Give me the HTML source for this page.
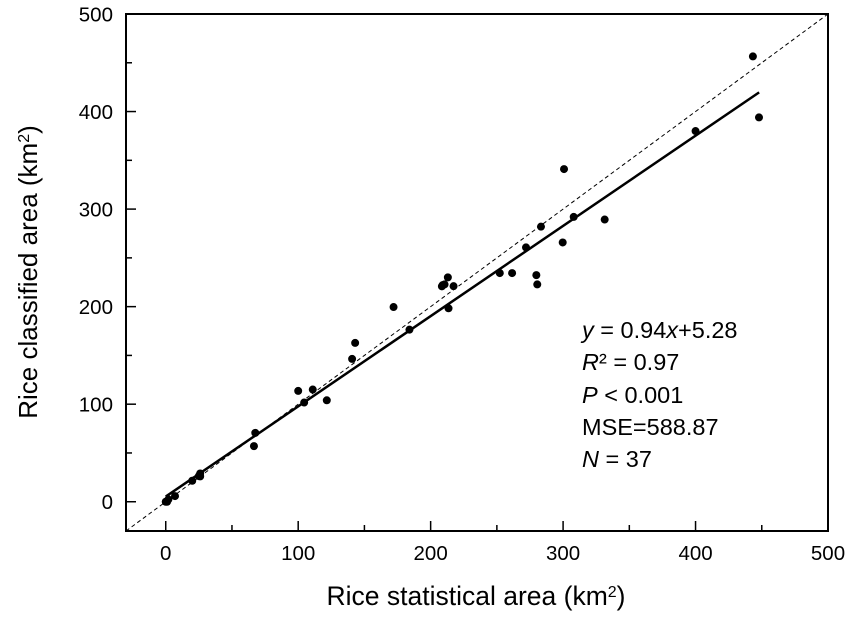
<!DOCTYPE html>
<html><head><meta charset="utf-8"><style>
body{margin:0;background:#fff;}
svg{display:block;font-family:"Liberation Sans",Arial,sans-serif;}
</style></head><body>
<svg id="chart" width="851" height="617" viewBox="0 0 851 617">
<g id="axes"></g>
<g id="lines"></g>
<g id="points"></g>
<g font-size="23.5" fill="#000">
<text x="582" y="338"><tspan font-style="italic">y</tspan> = 0.94<tspan font-style="italic">x</tspan>+5.28</text>
<text x="582" y="370"><tspan font-style="italic">R</tspan>² = 0.97</text>
<text x="582" y="403"><tspan font-style="italic">P</tspan> &lt; 0.001</text>
<text x="582" y="435">MSE=588.87</text>
<text x="582" y="467"><tspan font-style="italic">N</tspan> = 37</text>
</g>
<text x="476" y="605" text-anchor="middle" font-size="26.5">Rice statistical area (km<tspan baseline-shift="super" font-size="16">2</tspan>)</text>
<text transform="translate(37,272) rotate(-90)" text-anchor="middle" font-size="26">Rice classified area (km<tspan baseline-shift="super" font-size="16">2</tspan>)</text>
</svg>
<script>
const xs=[0,1,2,7,20,25,26,26,67.6,66.6,100,104.5,111,121.6,140.7,143,172,184,443.3,447.9,400,300.7,308,331.4,283.3,272,299.7,252.2,261.5,279.8,280.5,213,208.5,210.5,217.3,213.5,209];
const ys=[0,0,2.4,5.8,21.5,26.3,26,29,70.6,57,113.6,101.7,115,104,146.4,162.8,199.6,176.4,456.5,394,380,341,292,289.3,282,260.7,265.8,234.4,234.4,232.3,222.8,230,220.8,222.8,221,198.3,222];
const ticks=[0,100,200,300,400,500];
const minorTicks=[50,150,250,350,450];
const slope=0.925, intercept=5.28, fitMin=0, fitMax=448;
const NS="http://www.w3.org/2000/svg";
const L=126,R=828,T=14,B=531,vmin=-30,vmax=500;
const sx=v=>L+(v-vmin)/(vmax-vmin)*(R-L);
const sy=v=>B-(v-vmin)/(vmax-vmin)*(B-T);
function mk(tag,attrs,parent){const e=document.createElementNS(NS,tag);for(const k in attrs)e.setAttribute(k,attrs[k]);parent.appendChild(e);return e;}
const ax=document.getElementById('axes');
const fr=mk('rect',{x:L,y:T,width:R-L,height:B-T,fill:'none',stroke:'#000','stroke-width':2},ax);


ticks.concat(minorTicks).forEach((t,i)=>{
 const len=i<ticks.length?10:6;
 const a=mk('line',{x1:sx(t),x2:sx(t),y1:B,y2:B-len,stroke:'#000','stroke-width':1.5},ax);
 
 
 const b=mk('line',{x1:L,x2:L+len,y1:sy(t),y2:sy(t),stroke:'#000','stroke-width':1.5},ax);
 
 
});
ticks.forEach(t=>{
 const a=mk('text',{x:sx(t),y:B+29,'text-anchor':'middle','font-size':20.5},ax);a.textContent=t;
 
 
 const b=mk('text',{x:L-13,y:sy(t)+7.5,'text-anchor':'end','font-size':20.5},ax);b.textContent=t;
 
 
});
const ln=document.getElementById('lines');
const d=mk('line',{x1:sx(vmin),y1:sy(vmin),x2:sx(vmax),y2:sy(vmax),stroke:'#000','stroke-width':1,'stroke-dasharray':'4,3'},ln);


const f=mk('line',{x1:sx(fitMin),y1:sy(slope*fitMin+intercept),x2:sx(fitMax),y2:sy(slope*fitMax+intercept),stroke:'#000','stroke-width':2.5},ln);


const pg=document.getElementById('points');
xs.forEach((x,i)=>{
 const c=mk('circle',{cx:sx(x),cy:sy(ys[i]),r:4,fill:'#000'},pg);
 
 
});
</script>
</body></html>
